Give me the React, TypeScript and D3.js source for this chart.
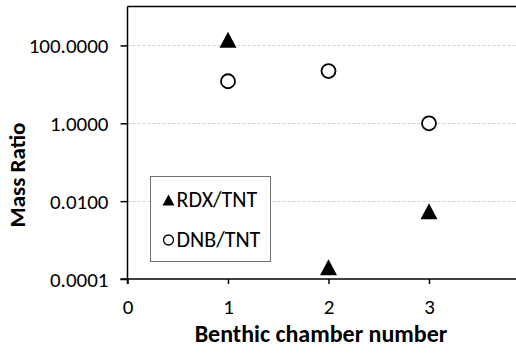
import { useEffect, useRef } from 'react';
import * as d3 from 'd3';

const chambers = [1, 2, 3];
const rdxTnt = [140, 0.0002, 0.0055];
const dnbTnt = [12, 22, 1.0];
const yTicks = [0.0001, 0.01, 1, 100];
const xTicks = [0, 1, 2, 3];
const seriesNames = ['RDX/TNT', 'DNB/TNT'];

const WIDTH = 516;
const HEIGHT = 353;
const FONT = "Carlito, Calibri, 'Liberation Sans', Arial, sans-serif";

// triangle centred on its bounding box (Excel-style marker)
const boxTriangle = (w: number, h: number): d3.SymbolType => ({
	draw(context) {
		context.moveTo(0, -h / 2);
		context.lineTo(w / 2, h / 2);
		context.lineTo(-w / 2, h / 2);
		context.closePath();
	},
});

export default function App() {
	const svgRef = useRef<SVGSVGElement>(null);

	useEffect(() => {
		if (!svgRef.current) return;
		const svg = d3.select(svgRef.current);
		svg.selectAll('*').remove();

		const left = 127.5;
		const top = 6.5;
		const bottom = 279;

		const x = d3.scaleLinear().domain([0, 4]).range([left, 529.5]);
		const y = d3.scaleLog().domain([0.0001, 1000]).range([bottom, top]);

		// Gridlines
		svg
			.append('g')
			.selectAll('line')
			.data(yTicks.filter((t) => t > 0.0001))
			.enter()
			.append('line')
			.attr('x1', left)
			.attr('x2', WIDTH)
			.attr('y1', (d) => Math.round(y(d)) + 0.5)
			.attr('y2', (d) => Math.round(y(d)) + 0.5)
			.attr('stroke', '#d0d0d0')
			.attr('stroke-width', 1)
			.attr('stroke-dasharray', '3,2');

		// Frame
		const frame = svg.append('g').attr('stroke', '#000').attr('stroke-width', 1.5);
		frame.append('line').attr('x1', left).attr('x2', WIDTH).attr('y1', top).attr('y2', top);
		frame.append('line').attr('x1', left).attr('x2', left).attr('y1', top).attr('y2', bottom + 5);

		// Y axis
		const yAxis = svg
			.append('g')
			.attr('transform', `translate(${left},0)`)
			.call(
				d3
					.axisLeft(y)
					.tickValues(yTicks)
					.tickSize(7)
					.tickPadding(12)
					.tickFormat((d) => (d as number).toFixed(4)),
			);
		yAxis.select('.domain').remove();
		yAxis.selectAll('line').attr('stroke', '#000').attr('stroke-width', 1.5);
		yAxis
			.selectAll('text')
			.attr('font-family', FONT)
			.attr('font-size', 21)
			.attr('fill', '#000')
			.attr('dy', '0.34em');

		// X axis
		const xAxis = svg
			.append('g')
			.attr('transform', `translate(0,${bottom})`)
			.call(
				d3
					.axisBottom(x)
					.tickValues(xTicks)
					.tickSize(5)
					.tickPadding(0)
					.tickFormat(d3.format('d')),
			);
		xAxis.select('.domain').remove();
		xAxis.selectAll('line').attr('stroke', '#000').attr('stroke-width', 1.5);
		xAxis
			.selectAll('text')
			.attr('y', 35)
			.attr('dy', null)
			.attr('font-family', FONT)
			.attr('font-size', 21)
			.attr('fill', '#000');
		svg
			.append('line')
			.attr('x1', left - 7)
			.attr('x2', WIDTH)
			.attr('y1', bottom)
			.attr('y2', bottom)
			.attr('stroke', '#000')
			.attr('stroke-width', 1.5);

		// Axis titles
		svg
			.append('text')
			.attr('x', 321)
			.attr('y', 342)
			.attr('text-anchor', 'middle')
			.attr('font-family', FONT)
			.attr('font-weight', 'bold')
			.attr('font-size', 24)
			.text('Benthic chamber number');

		svg
			.append('text')
			.attr('transform', 'translate(25,175) rotate(-90)')
			.attr('text-anchor', 'middle')
			.attr('font-family', FONT)
			.attr('font-weight', 'bold')
			.attr('font-size', 23)
			.text('Mass Ratio');

		// Legend
		const legend = svg.append('g');
		legend
			.append('rect')
			.attr('x', 150.5)
			.attr('y', 176.5)
			.attr('width', 120)
			.attr('height', 85)
			.attr('fill', '#fff')
			.attr('stroke', '#707070')
			.attr('stroke-width', 1);
		legend
			.append('path')
			.attr('d', d3.symbol(boxTriangle(12, 11))())
			.attr('transform', 'translate(168.5,200)')
			.attr('fill', '#000');
		legend
			.append('circle')
			.attr('cx', 168.5)
			.attr('cy', 240)
			.attr('r', 5)
			.attr('fill', '#fff')
			.attr('stroke', '#000')
			.attr('stroke-width', 1.3);
		legend
			.selectAll('text')
			.data(seriesNames)
			.enter()
			.append('text')
			.attr('x', 176.5)
			.attr('y', (d, i) => 207 + i * 40)
			.attr('font-family', FONT)
			.attr('font-size', 22)
			.text((d) => d);

		// DNB/TNT points
		svg
			.append('g')
			.selectAll('circle')
			.data(chambers)
			.enter()
			.append('circle')
			.attr('cx', (d) => x(d))
			.attr('cy', (d, i) => y(dnbTnt[i]))
			.attr('r', 7)
			.attr('fill', '#fff')
			.attr('stroke', '#000')
			.attr('stroke-width', 1.8);

		// RDX/TNT points
		const tri = d3.symbol(boxTriangle(17, 16));
		svg
			.append('g')
			.selectAll('path')
			.data(chambers)
			.enter()
			.append('path')
			.attr('d', tri())
			.attr('transform', (d, i) => `translate(${x(d)},${y(rdxTnt[i])})`)
			.attr('fill', '#000');
	}, []);

	return (
		<svg
			ref={svgRef}
			width={WIDTH}
			height={HEIGHT}
			style={{ position: 'absolute', left: 0, top: 0, background: '#fff' }}
		></svg>
	);
}
